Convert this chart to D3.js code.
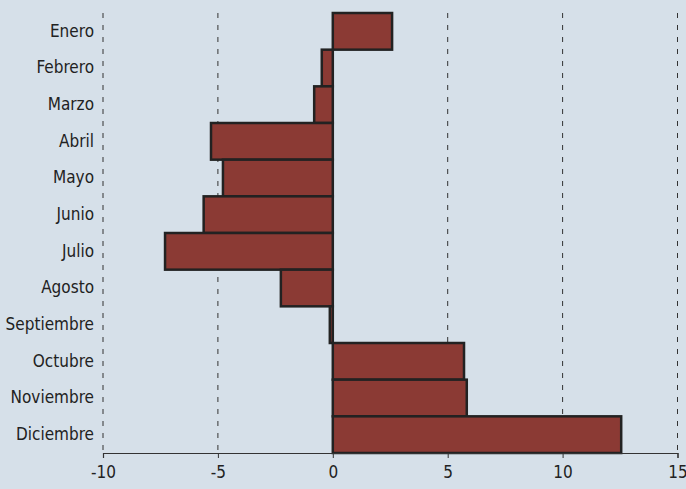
<!DOCTYPE html>
<html>
<head>
<meta charset="utf-8">
<script src="https://cdn.jsdelivr.net/npm/d3@7"></script>
<style>
  body { margin: 0; background: #d6e0e9; }
  svg { display: block; }
  .axis text { font-family: "Liberation Sans Narrow", "DejaVu Sans Condensed", sans-serif; fill: #222; }
</style>
</head>
<body>
<script>
// months (top to bottom) and values
var months = ["Enero", "Febrero", "Marzo", "Abril", "Mayo", "Junio", "Julio",
              "Agosto", "Septiembre", "Octubre", "Noviembre", "Diciembre"];
var values = [2.58, -0.48, -0.81, -5.3, -4.78, -5.62, -7.3, -2.26, -0.13, 5.71, 5.83, 12.55];
var xTicks = [-10, -5, 0, 5, 10, 15];

var W = 686, H = 489;
var margin = {top: 13, right: 8, bottom: 36, left: 103};
var width = W - margin.left - margin.right;
var height = H - margin.top - margin.bottom;

var data = months.map(function(m, i) { return {month: m, value: values[i]}; });

var svg = d3.select("body").append("svg")
    .attr("width", W)
    .attr("height", H);

svg.append("rect").attr("width", W).attr("height", H).attr("fill", "#d6e0e9");

var g = svg.append("g")
    .attr("transform", "translate(" + margin.left + "," + margin.top + ")");

var x = d3.scaleLinear().domain([-10, 15]).range([0, width - 0.5]);
var y = d3.scaleBand().domain(months).range([0, height]).padding(0);

// dashed gridlines
g.selectAll(".grid")
    .data(xTicks)
  .enter().append("line")
    .attr("class", "grid")
    .attr("x1", function(d) { return x(d); })
    .attr("x2", function(d) { return x(d); })
    .attr("y1", 0)
    .attr("y2", height)
    .attr("stroke", "#333")
    .attr("stroke-width", 1)
    .attr("stroke-dasharray", "5,7");

// bars
g.selectAll(".bar")
    .data(data)
  .enter().append("rect")
    .attr("class", "bar")
    .attr("x", function(d) { return x(Math.min(0, d.value)); })
    .attr("y", function(d) { return y(d.month); })
    .attr("width", function(d) { return Math.abs(x(d.value) - x(0)); })
    .attr("height", y.bandwidth())
    .attr("fill", "#8b3a34")
    .attr("stroke", "#222")
    .attr("stroke-width", 2.5);

// x axis
var xAxis = d3.axisBottom(x).tickValues(xTicks).tickSize(5).tickPadding(8)
    .tickFormat(d3.format("d"));
var gx = g.append("g")
    .attr("class", "axis")
    .attr("transform", "translate(0," + height + ")")
    .call(xAxis);
gx.select(".domain").attr("stroke", "#333").attr("stroke-width", 1.2);
gx.selectAll(".tick line").attr("stroke", "#333");
gx.selectAll("text").style("font-size", "17px").text(function(d) { return d < 0 ? "-" + Math.abs(d) : d; });

// y axis (labels only)
var yAxis = d3.axisLeft(y).tickSize(0).tickPadding(9);
var gy = g.append("g")
    .attr("class", "axis")
    .call(yAxis);
gy.select(".domain").remove();
gy.selectAll("text").style("font-size", "17px");
</script>
</body>
</html>
